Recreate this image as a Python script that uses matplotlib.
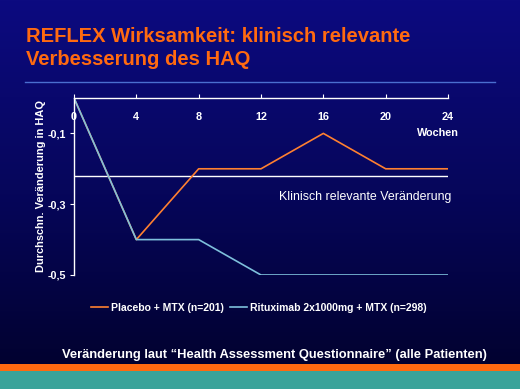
import matplotlib
matplotlib.use("Agg")
import matplotlib.pyplot as plt
import numpy as np
from matplotlib.colors import LinearSegmentedColormap
from matplotlib.lines import Line2D

plt.rcParams['font.family'] = ['Liberation Sans', 'DejaVu Sans']

weeks = [0, 4, 8, 12, 16, 20, 24]
placebo = [0, -0.4, -0.2, -0.2, -0.1, -0.2, -0.2]
rituximab = [0, -0.4, -0.4, -0.5, -0.5, -0.5, -0.5]
threshold = -0.22
xticks = [0, 4, 8, 12, 16, 20, 24]
yticks = [-0.1, -0.3, -0.5]
ytick_labels = ['-0,1', '-0,3', '-0,5']

W, H = 520, 389
fig = plt.figure(figsize=(W / 100, H / 100), dpi=100)

# background gradient
bg = fig.add_axes([0, 0, 1, 1])
bg.set_axis_off()
cmap = LinearSegmentedColormap.from_list('bg', ['#0c0a80', '#06065a', '#01012a'])
grad = np.linspace(0, 1, 256).reshape(-1, 1)
bg.imshow(grad, aspect='auto', cmap=cmap, extent=[0, 1, 0, 1], origin='upper')
bg.set_xlim(0, 1)
bg.set_ylim(0, 1)
# bottom stripes
bg.add_patch(plt.Rectangle((0, 0), 1, 18 / H, color='#3aa39a', lw=0))
bg.add_patch(plt.Rectangle((0, 18 / H), 1, 7 / H, color='#ff6a10', lw=0))
# title rule
bg.plot([25 / W, 495 / W], [1 - 82 / H, 1 - 82 / H], color='#4a6ed0', lw=1)

fig.text(26 / W, 1 - 42 / H, 'REFLEX Wirksamkeit: klinisch relevante', color='#ff6a10',
         fontsize=14.5, fontweight='bold', va='baseline', ha='left')
fig.text(26 / W, 1 - 65 / H, 'Verbesserung des HAQ', color='#ff6a10',
         fontsize=14.5, fontweight='bold', va='baseline', ha='left')

ax = fig.add_axes([74 / W, 1 - 275 / H, (448 - 74) / W, (275 - 98) / H])
ax.set_facecolor('none')
ax.patch.set_alpha(0)
ax.set_xlim(0, 24)
ax.set_ylim(-0.5, 0)

ax.axhline(threshold, color='white', lw=1)
ax.plot(weeks, placebo, color='#ff8030', lw=1.2, label='Placebo + MTX (n=201)')
ax.plot(weeks, rituximab, color='#7ec0dc', lw=1.2, label='Rituximab 2x1000mg + MTX (n=298)')

for s in ['right', 'bottom']:
    ax.spines[s].set_visible(False)
for s in ['top', 'left']:
    ax.spines[s].set_color('white')
    ax.spines[s].set_linewidth(1)
ax.xaxis.set_ticks_position('top')
ax.set_xticks(xticks)
ax.set_xticklabels([str(x) for x in xticks])
ax.tick_params(axis='x', direction='out', length=3, color='white', labelcolor='white',
               labelsize=7.8, pad=-20, labeltop=True)
for lab in ax.get_xticklabels():
    lab.set_fontweight('bold')
ax.set_yticks(yticks)
ax.set_yticklabels(ytick_labels)
ax.tick_params(axis='y', direction='out', length=3, color='white', labelcolor='white',
               labelsize=7.8, pad=3)
for lab in ax.get_yticklabels():
    lab.set_fontweight('bold')

ax.set_ylabel('Durchschn. Veränderung in HAQ', color='white', fontsize=7.9, fontweight='bold',
              labelpad=1)
ax.text(24.7, -0.1, 'Wochen', color='white', fontsize=7.8, fontweight='bold',
        ha='right', va='center')
ax.text(18.7, -0.28, 'Klinisch relevante Veränderung', color='white', fontsize=8.9,
        ha='center', va='center')

handles = [Line2D([0], [0], color='#ff8030', lw=1.2), Line2D([0], [0], color='#7ec0dc', lw=1.2)]
leg = fig.legend(handles, ['Placebo + MTX (n=201)', 'Rituximab 2x1000mg + MTX (n=298)'],
                 loc='center', bbox_to_anchor=(259 / W, 1 - 308 / H), ncol=2, frameon=False,
                 handlelength=1.6, handletextpad=0.3, columnspacing=0.6,
                 prop={'weight': 'bold', 'size': 7.5})
for t in leg.get_texts():
    t.set_color('white')

fig.text(62 / W, 1 - 355 / H, 'Veränderung laut “Health Assessment Questionnaire” (alle Patienten)',
         color='white', fontsize=9.3, fontweight='bold', ha='left', va='center')

fig.savefig('out.png', dpi=100)
